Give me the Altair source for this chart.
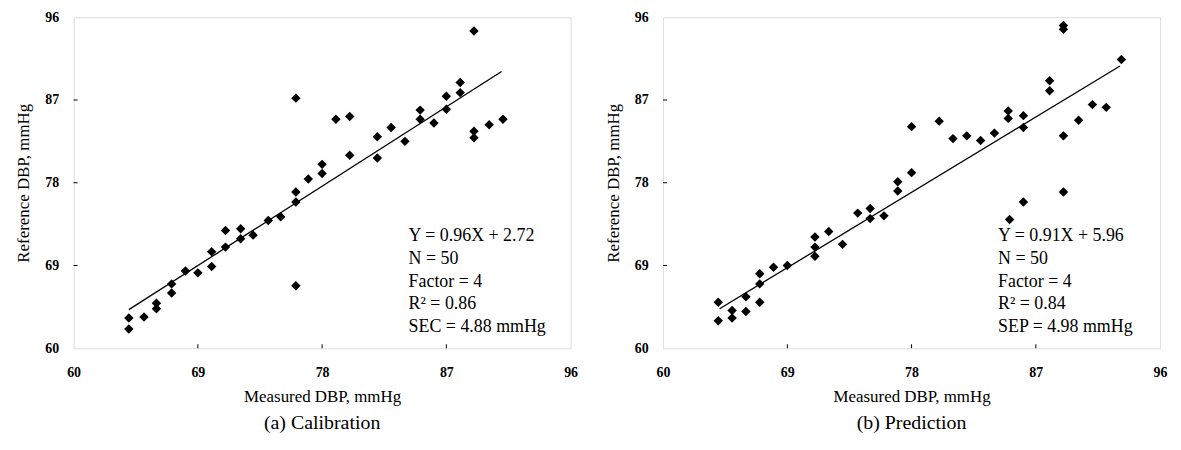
import altair as alt
import pandas as pd

FONT = "Liberation Serif"
ticks = [60, 69, 78, 87, 96]
inner_ticks = [69, 78, 87]

# (a) Calibration
cal_x = [64.0, 64.0, 65.1, 66.0, 66.0, 67.1, 67.1, 68.1, 69.0, 70.0, 70.0, 71.0, 71.0,
         72.1, 72.1, 73.0, 74.1, 75.0, 76.1, 76.1, 76.1, 76.1, 77.0, 89.0, 88.0, 88.0,
         87.0, 87.0, 86.1, 85.1, 85.1, 84.0, 83.0, 82.0, 82.0, 80.0, 79.0, 80.0, 78.0,
         78.0, 89.0, 89.0, 90.1, 91.1]
cal_y = [63.3, 62.1, 63.4, 64.9, 64.3, 67.0, 66.0, 68.4, 68.2, 70.5, 68.9, 72.8, 71.0,
         73.0, 71.9, 72.3, 73.9, 74.3, 77.0, 75.9, 66.8, 87.2, 78.4, 94.5, 88.9, 87.8,
         87.4, 86.0, 84.5, 85.9, 84.9, 82.5, 84.0, 83.0, 80.7, 85.2, 84.9, 81.0, 80.0,
         79.0, 83.6, 82.9, 84.3, 84.9]
cal_fit_x = [64.0, 91.0]
cal_fit_y = [64.2, 90.1]
cal_stats = ["Y = 0.96X + 2.72", "N = 50", "Factor = 4", "R\u00b2 = 0.86", "SEC = 4.88 mmHg"]

# (b) Prediction
pred_x = [64.0, 64.0, 65.0, 65.0, 66.0, 66.0, 67.0, 67.0, 67.0, 68.0, 69.0, 71.0, 71.0,
          71.0, 72.0, 73.0, 74.1, 75.0, 75.0, 76.0, 77.0, 77.0, 78.0, 85.1, 86.1, 89.0,
          78.0, 80.0, 81.0, 82.0, 83.0, 84.0, 85.0, 85.0, 86.1, 86.1, 88.0, 88.0, 89.0,
          89.0, 89.0, 90.1, 91.1, 92.1, 93.2]
pred_y = [65.0, 63.0, 64.1, 63.3, 65.6, 64.0, 68.1, 67.0, 65.0, 68.8, 69.0, 72.1, 71.0,
          70.0, 72.7, 71.3, 74.7, 75.2, 74.1, 74.4, 78.1, 77.1, 79.1, 74.0, 75.9, 77.0,
          84.1, 84.7, 82.8, 83.1, 82.6, 83.4, 85.8, 85.0, 85.3, 84.0, 89.1, 88.0, 95.1,
          94.7, 83.1, 84.8, 86.5, 86.2, 91.4]
pred_fit_x = [64.1, 93.1]
pred_fit_y = [64.3, 90.7]
pred_stats = ["Y = 0.91X + 5.96", "N = 50", "Factor = 4", "R\u00b2 = 0.84", "SEP = 4.98 mmHg"]


def panel(px, py, fx, fy, stats, caption):
    pts = pd.DataFrame({"x": px, "y": py})
    fit = pd.DataFrame({"x": fx, "y": fy})
    txt = pd.DataFrame({"t": ["\n".join(stats)]})
    tk = pd.DataFrame({"v": inner_ticks})
    xs = alt.Scale(domain=[60, 96], nice=False, zero=False)
    ys = alt.Scale(domain=[60, 96], nice=False, zero=False)
    xax = alt.Axis(values=ticks, title="Measured DBP, mmHg", grid=False, ticks=False,
                   domain=False, labelFlush=False, labelPadding=17, titlePadding=10,
                   labelFont=FONT, labelFontSize=14, labelFontWeight="bold",
                   labelColor="black", titleFont=FONT, titleFontSize=17,
                   titleFontWeight="normal", titleColor="black")
    yax = alt.Axis(values=ticks, title="Reference DBP, mmHg", grid=False, ticks=False,
                   domain=False, labelFlush=False, labelPadding=15, titlePadding=12,
                   labelFont=FONT, labelFontSize=14, labelFontWeight="bold",
                   labelColor="black", titleFont=FONT, titleFontSize=17,
                   titleFontWeight="normal", titleColor="black")
    line = alt.Chart(fit).mark_line(color="black", strokeWidth=1.3).encode(
        x=alt.X("x:Q", scale=xs, axis=xax), y=alt.Y("y:Q", scale=ys, axis=yax))
    dots = alt.Chart(pts).mark_point(shape="diamond", filled=True, color="black",
                                     size=90, opacity=1).encode(
        x=alt.X("x:Q", scale=xs), y=alt.Y("y:Q", scale=ys))
    xt = alt.Chart(tk).mark_rule(color="black", strokeWidth=1).encode(
        x=alt.X("v:Q", scale=xs), y=alt.value(333), y2=alt.value(329))
    yt = alt.Chart(tk).mark_rule(color="black", strokeWidth=1).encode(
        y=alt.Y("v:Q", scale=ys), x=alt.value(0), x2=alt.value(4))
    text = alt.Chart(txt).mark_text(align="left", baseline="top", lineBreak="\n",
                                    lineHeight=23, font=FONT, fontSize=18,
                                    color="black").encode(
        x=alt.value(337), y=alt.value(211), text="t:N")
    return alt.layer(line, dots, xt, yt, text).properties(
        width=500, height=333,
        title=alt.TitleParams(caption, orient="bottom", anchor="middle", font=FONT,
                              fontSize=20, fontWeight="normal", color="black",
                              offset=8))


chart = alt.hconcat(
    panel(cal_x, cal_y, cal_fit_x, cal_fit_y, cal_stats, "(a)  Calibration"),
    panel(pred_x, pred_y, pred_fit_x, pred_fit_y, pred_stats, "(b)  Prediction"),
    spacing=25,
).properties(padding={"left": 6, "top": 0, "right": 5, "bottom": 5}).configure_view(
    stroke="black", strokeWidth=1.2
).configure(background="white")

chart.save("out.html", embed_options={"renderer": "svg", "actions": False})
